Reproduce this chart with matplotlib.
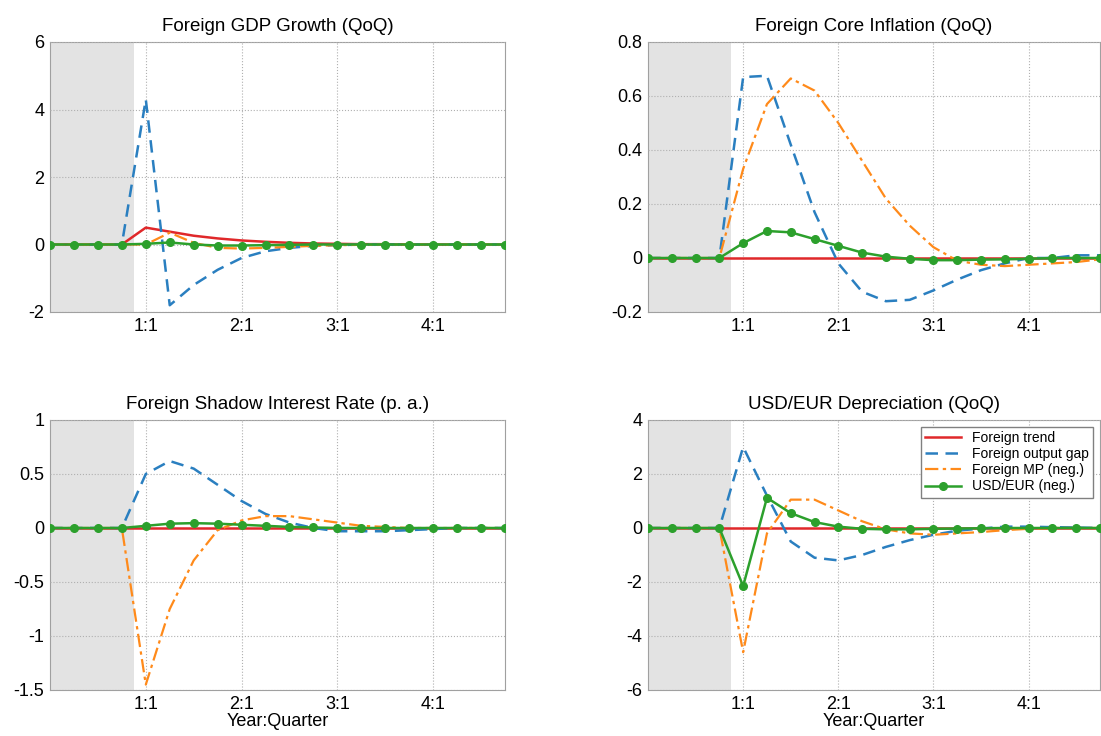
import numpy as np
import matplotlib
matplotlib.use("Agg")
import matplotlib.pyplot as plt

plt.rcParams['font.family'] = ['Liberation Sans', 'DejaVu Sans']

# quarters relative to shock, 0 = 1:1
quarters = list(range(-4, 16))
pre = [0, 0, 0, 0]

titles = ['Foreign GDP Growth (QoQ)', 'Foreign Core Inflation (QoQ)',
          'Foreign Shadow Interest Rate (p. a.)', 'USD/EUR Depreciation (QoQ)']
series_names = ['Foreign trend', 'Foreign output gap', 'Foreign MP (neg.)', 'USD/EUR (neg.)']

gdp_trend = pre + [0.5, 0.38, 0.26, 0.18, 0.12, 0.08, 0.05, 0.03, 0.02, 0.01, 0.01, 0, 0, 0, 0, 0]
gdp_gap = pre + [4.3, -1.8, -1.2, -0.75, -0.4, -0.2, -0.1, -0.04, -0.02, 0, 0, 0, 0, 0, 0, 0]
gdp_mp = pre + [0, 0.35, 0.05, -0.1, -0.12, -0.1, -0.07, -0.04, -0.02, -0.01, 0, 0, 0, 0, 0, 0]
gdp_fx = pre + [0.02, 0.06, 0, -0.03, -0.03, -0.02, -0.01, 0, 0, 0, 0, 0, 0, 0, 0, 0]

inf_trend = pre + [0] * 16
inf_gap = pre + [0.67, 0.675, 0.42, 0.17, -0.02, -0.125, -0.16, -0.155, -0.12, -0.08, -0.045,
                 -0.02, 0, 0, 0.01, 0.01]
inf_mp = pre + [0.33, 0.57, 0.665, 0.62, 0.5, 0.36, 0.22, 0.12, 0.04, -0.01, -0.025, -0.03,
                -0.025, -0.02, -0.015, -0.005]
inf_fx = pre + [0.055, 0.1, 0.095, 0.07, 0.045, 0.02, 0.005, -0.003, -0.008, -0.008, -0.006,
                -0.005, -0.003, 0, 0, 0]

rate_trend = pre + [0] * 16
rate_gap = pre + [0.5, 0.62, 0.55, 0.4, 0.25, 0.13, 0.05, 0, -0.03, -0.03, -0.03, -0.02, -0.01,
                  0, 0, 0]
rate_mp = pre + [-1.45, -0.75, -0.3, -0.02, 0.07, 0.11, 0.11, 0.08, 0.05, 0.02, 0.01, 0, 0, 0, 0, 0]
rate_fx = pre + [0.02, 0.04, 0.045, 0.04, 0.03, 0.02, 0.01, 0.005, 0, 0, 0, 0, 0, 0, 0, 0]

usd_trend = pre + [0] * 16
usd_gap = pre + [3.0, 1.2, -0.5, -1.1, -1.2, -1.0, -0.7, -0.45, -0.25, -0.1, -0.02, 0.05, 0.05,
                 0.03, 0.02, 0]
usd_mp = pre + [-4.6, -0.2, 1.05, 1.05, 0.65, 0.25, -0.05, -0.2, -0.25, -0.2, -0.15, -0.08,
                -0.03, 0, 0, 0]
usd_fx = pre + [-2.15, 1.12, 0.55, 0.22, 0.05, -0.03, -0.05, -0.05, -0.03, -0.02, -0.01, 0, 0,
                0, 0, 0]

panels = [
    (gdp_trend, gdp_gap, gdp_mp, gdp_fx, (-2, 6), [-2, 0, 2, 4, 6], ['-2', '0', '2', '4', '6']),
    (inf_trend, inf_gap, inf_mp, inf_fx, (-0.2, 0.8), [-0.2, 0, 0.2, 0.4, 0.6, 0.8],
     ['-0.2', '0', '0.2', '0.4', '0.6', '0.8']),
    (rate_trend, rate_gap, rate_mp, rate_fx, (-1.5, 1), [-1.5, -1, -0.5, 0, 0.5, 1],
     ['-1.5', '-1', '-0.5', '0', '0.5', '1']),
    (usd_trend, usd_gap, usd_mp, usd_fx, (-6, 4), [-6, -4, -2, 0, 2, 4],
     ['-6', '-4', '-2', '0', '2', '4']),
]

xticks = [0, 4, 8, 12]
xticklabels = ['1:1', '2:1', '3:1', '4:1']

fig = plt.figure(figsize=(11.01, 7.36), dpi=100)
W, H = 1101, 736
boxes = [(50, 42, 455, 270), (648, 42, 452, 270), (50, 420, 455, 270), (648, 420, 452, 270)]

for i, (trend, gap, mp, fx, ylim, yt, ytl) in enumerate(panels):
    x0, y0, w, h = boxes[i]
    ax = fig.add_axes([x0 / W, 1 - (y0 + h) / H, w / W, h / H])
    ax.axvspan(-4, -0.5, color='#e3e3e3', lw=0, zorder=0)
    ax.plot(quarters, trend, color='#e0282a', lw=1.8, label=series_names[0], zorder=3)
    ax.plot(quarters, gap, color='#2a7fc0', lw=1.8, ls=(0, (5, 3)), label=series_names[1], zorder=3)
    ax.plot(quarters, mp, color='#ff8a1a', lw=1.6, ls=(0, (6, 2, 1.5, 2)), label=series_names[2],
            zorder=3)
    ax.plot(quarters, fx, color='#2ca02c', lw=1.8, marker='o', ms=5.5, label=series_names[3],
            zorder=4)
    ax.set_xlim(-4, 15)
    ax.set_ylim(*ylim)
    ax.set_yticks(yt)
    ax.set_yticklabels(ytl)
    ax.set_xticks(xticks)
    ax.set_xticklabels(xticklabels)
    ax.grid(True, color='#b0b0b0', ls=':', lw=0.8)
    ax.set_axisbelow(False)
    ax.tick_params(labelsize=13, length=0, pad=4)
    for s in ax.spines.values():
        s.set_color('#a0a0a0')
    ax.set_title(titles[i], fontsize=13.5, pad=8)
    if i >= 2:
        ax.set_xlabel('Year:Quarter', fontsize=13, labelpad=0)
    if i == 3:
        leg = ax.legend(loc='upper right', fontsize=10, handlelength=2.6, borderpad=0.3,
                        labelspacing=0.15, fancybox=False, framealpha=1, edgecolor='#808080')

fig.savefig('out.png', dpi=100)
